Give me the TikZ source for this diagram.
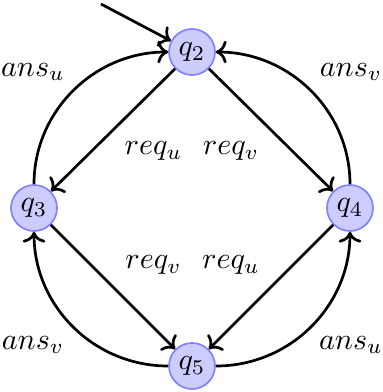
\documentclass[tikz,border=0pt]{standalone}
\usetikzlibrary{arrows.meta}
\begin{document}
\begin{tikzpicture}[x=0.332pt,y=-0.332pt,
  state/.style={circle,draw=blue!50,fill=blue!20,line width=0.55pt,minimum size=46*0.332pt,inner sep=0pt},
  edge/.style={->,line width=0.9pt},
  lbl/.style={inner sep=0pt}]
\useasboundingbox (0,0) rectangle (383,392);
\node[state] (q2) at (192,52) {$q_2$};
\node[state] (q3) at (34,208) {$q_3$};
\node[state] (q4) at (350,208) {$q_4$};
\node[state] (q5) at (192,366) {$q_5$};
\coordinate (start) at (101,4);
\draw[edge] (start) -- (q2);
\draw[edge] (q2) -- (q3);
\draw[edge] (q2) -- (q4);
\draw[edge] (q3) -- (q5);
\draw[edge] (q4) -- (q5);
\draw[edge] (q3.north) to[out=90,in=180] (q2.west);
\draw[edge] (q4.north) to[out=90,in=0] (q2.east);
\draw[edge] (q5.west) to[out=180,in=-90] (q3.south);
\draw[edge] (q5.east) to[out=0,in=-90] (q4.south);
\node[lbl] (l1) at (33,72) {$ans_u$};
\node[lbl] (l2) at (351,72) {$ans_v$};
\node[lbl] (l3) at (33,345) {$ans_v$};
\node[lbl] (l4) at (351,345) {$ans_u$};
\node[lbl] (l5) at (153.5,151) {$req_u$};
\node[lbl] (l6) at (231,151) {$req_v$};
\node[lbl] (l7) at (153.5,265) {$req_v$};
\node[lbl] (l8) at (231,265) {$req_u$};
\end{tikzpicture}
\end{document}
